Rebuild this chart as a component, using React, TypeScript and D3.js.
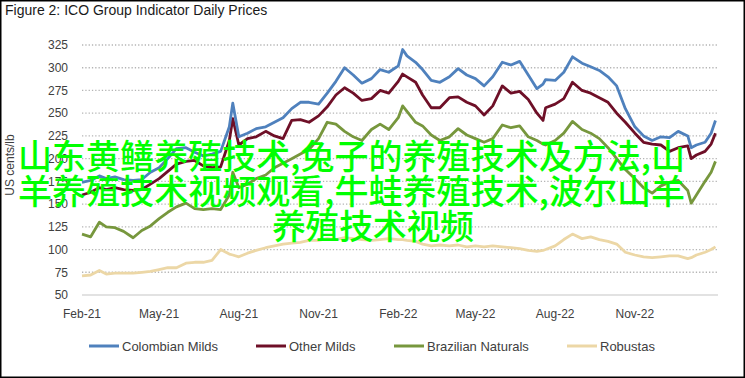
import React from "react";
import * as d3 from "d3";

const dates = [
  "2021-02-01","2021-02-11","2021-02-21","2021-03-01","2021-03-11","2021-03-21",
  "2021-04-01","2021-04-11","2021-04-21","2021-05-01","2021-05-11","2021-05-21",
  "2021-06-01","2021-06-11","2021-06-21","2021-07-01","2021-07-11","2021-07-21",
  "2021-07-25","2021-08-01","2021-08-11","2021-08-21","2021-09-01","2021-09-11",
  "2021-09-21","2021-10-01","2021-10-11","2021-10-21","2021-11-01","2021-11-11",
  "2021-11-21","2021-12-01","2021-12-11","2021-12-21","2022-01-01","2022-01-11",
  "2022-01-21","2022-02-01","2022-02-06","2022-02-11","2022-02-21","2022-03-01",
  "2022-03-11","2022-03-21","2022-04-01","2022-04-11","2022-04-21","2022-05-01",
  "2022-05-11","2022-05-21","2022-06-01","2022-06-11","2022-06-21","2022-07-01",
  "2022-07-11","2022-07-18","2022-07-21","2022-08-01","2022-08-11","2022-08-21",
  "2022-09-01","2022-09-11","2022-09-21","2022-10-01","2022-10-11","2022-10-21",
  "2022-11-01","2022-11-11","2022-11-21","2022-12-01","2022-12-11","2022-12-21",
  "2023-01-01","2023-01-05","2023-01-11","2023-01-21","2023-01-28","2023-02-02",
];

const colombianMilds = [
  174,176,181,178,180,177,176,177,185,190,200,211,
  212,207,203,205,208,235,261,224,228,233,235,240,
  245,255,262,262,260,272,285,300,292,283,288,298,
  295,302,320,313,306,298,286,284,290,299,292,288,
  280,290,306,303,307,292,277,282,287,286,295,312,
  305,301,297,290,280,255,235,225,220,224,223,230,
  225,212,215,218,228,242,
];

const otherMilds = [
  160,163,168,166,168,166,165,166,172,178,186,194,
  197,198,192,190,191,220,244,215,222,224,230,225,
  222,242,243,240,247,257,270,278,272,264,266,275,
  272,285,293,290,284,270,256,256,267,268,262,258,
  248,258,280,272,274,265,250,242,256,260,266,284,
  275,272,267,262,250,240,228,218,216,215,208,212,
  214,200,204,208,216,228,
];

const brazilianNaturals = [
  117,114,130,125,124,120,113,121,126,134,141,147,
  151,145,144,145,144,160,185,168,172,178,182,190,
  195,200,205,210,222,240,238,230,224,220,232,238,
  232,245,258,252,240,236,226,220,224,233,226,222,
  218,222,237,234,236,224,220,216,215,220,228,241,
  232,228,222,212,200,188,178,168,162,170,174,176,
  165,151,160,175,185,197,
];

const robustas = [
  71,72,77,73,74,74,74,75,76,78,80,80,
  85,86,86,88,100,95,94,92,96,99,102,104,
  106,107,108,110,110,112,111,113,112,111,110,111,
  112,111,111,110,109,106,104,105,104,105,103,104,
  103,104,103,102,101,99,98,99,100,104,111,117,
  112,114,111,109,106,97,94,92,91,92,93,93,
  90,91,94,97,100,103,
];

const seriesNames = ["Colombian Milds", "Other Milds", "Brazilian Naturals", "Robustas"];
const seriesColors = ["#4f81bd", "#6e0f27", "#77973d", "#ecd7a6"];

const yTicks = [50, 75, 100, 125, 150, 175, 200, 225, 250, 275, 300, 325];
const xTickDates = ["2021-02-01","2021-05-01","2021-08-01","2021-11-01","2022-02-01","2022-05-01","2022-08-01","2022-11-01"];
const xTickLabels = ["Feb-21","May-21","Aug-21","Nov-21","Feb-22","May-22","Aug-22","Nov-22"];

const overlayLines = [
  "山东黄鳝养殖技术,兔子的养殖技术及方法,山",
  "羊养殖技术视频观看,牛蛙养殖技术,波尔山羊",
  "养殖技术视频",
];

const W = 745;
const H = 378;
const FONT = "'Liberation Sans', Arial, sans-serif";

export default function App() {
  const parse = d3.timeParse("%Y-%m-%d");
  const x = d3
    .scaleTime()
    .domain([parse("2021-02-01") as Date, parse("2023-02-01") as Date])
    .range([82, 714.6]);
  const y = d3.scaleLinear().domain([50, 325]).range([295, 45]);

  const allSeries = [colombianMilds, otherMilds, brazilianNaturals, robustas];
  const parsedDates = dates.map((d) => parse(d) as Date);
  const line = d3
    .line<number>()
    .x((_, i) => x(parsedDates[i]))
    .y((v) => y(v))
    .curve(d3.curveLinear);

  const gridX0 = 82;
  const gridX1 = 718;

  const legendX = [89, 256, 394, 567];

  return (
    <div style={{ position: "fixed", left: 0, top: 0 }}>
      <svg width={W} height={H} style={{ display: "block", background: "#fff" }}>
        <rect x={0.75} y={0.75} width={W - 1.5} height={H - 1.5} fill="#fff" stroke="#000" strokeWidth={1.5} />
        <text x={5} y={15} fontFamily={FONT} fontSize={14} fill="#1a1a1a">
          Figure 2: ICO Group Indicator Daily Prices
        </text>

        {yTicks.map((t) =>
          t === 50 ? (
            <line key={t} x1={gridX0} x2={gridX1} y1={y(t)} y2={y(t)} stroke="#d9d9d9" strokeWidth={1.5} />
          ) : (
            <line
              key={t}
              x1={gridX0}
              x2={gridX1}
              y1={y(t)}
              y2={y(t)}
              stroke="#b5b5b5"
              strokeWidth={1.3}
              strokeDasharray="1.3,2"
            />
          )
        )}
        {yTicks.map((t) => (
          <text key={"l" + t} x={68} y={y(t) + 4.3} textAnchor="end" fontFamily={FONT} fontSize={12} fill="#404040">
            {t}
          </text>
        ))}
        <text
          transform={`translate(14,165) rotate(-90)`}
          textAnchor="middle"
          fontFamily={FONT}
          fontSize={12}
          fill="#404040"
        >
          US cents/lb
        </text>

        {xTickDates.map((d, i) => (
          <text key={d} x={x(parse(d) as Date)} y={318} textAnchor="middle" fontFamily={FONT} fontSize={12} fill="#404040">
            {xTickLabels[i]}
          </text>
        ))}

        {[3, 2, 1, 0].map((k) => (
          <path
            key={k}
            d={line(allSeries[k]) || ""}
            fill="none"
            stroke={seriesColors[k]}
            strokeWidth={2.8}
            strokeLinejoin="round"
          />
        ))}

        {seriesNames.map((n, i) => (
          <g key={n}>
            <line x1={legendX[i]} x2={legendX[i] + 30} y1={346} y2={346} stroke={seriesColors[i]} strokeWidth={3} />
            <text x={legendX[i] + 33} y={350.5} fontFamily={FONT} fontSize={13} fill="#404040">
              {n}
            </text>
          </g>
        ))}

        <g fontFamily="'Noto Sans CJK SC', sans-serif" fontSize={34} fontWeight={500} fill="#00ff00">
          <text x={18} y={169} textLength={667} lengthAdjust="spacing">
            {overlayLines[0]}
          </text>
          <text x={18} y={204} textLength={667} lengthAdjust="spacing">
            {overlayLines[1]}
          </text>
          <text x={272} y={239} textLength={202} lengthAdjust="spacing">
            {overlayLines[2]}
          </text>
        </g>
      </svg>
    </div>
  );
}
